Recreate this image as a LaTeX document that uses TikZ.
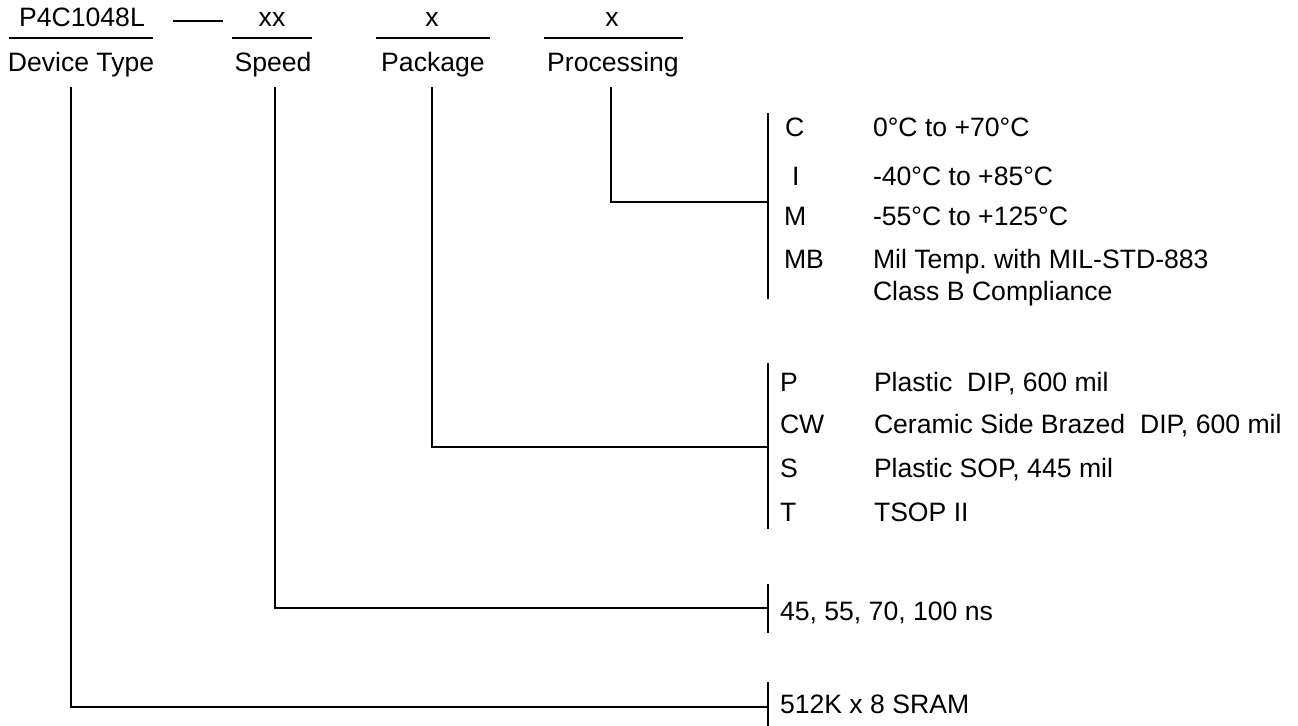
\documentclass[tikz,border=0pt]{standalone}
\usepackage{fontspec}
\setmainfont{Liberation Sans}
\begin{document}
\begin{tikzpicture}[x=0.5pt,y=-0.5pt,line width=1pt,
	every node/.style={inner sep=0pt,font=\fontsize{13.3}{15}\selectfont},
	hdr/.style={anchor=base},
	txt/.style={anchor=base west}]
	\useasboundingbox (0,0) rectangle (1298,726);
	% ordering code
	\node[hdr] (pn) at (82,27) {P4C1048L};
	\draw (173,21) -- (223,21);
	\node[hdr] (spd) at (272,27) {xx};
	\node[hdr] (pkg) at (432,27) {x};
	\node[hdr] (proc) at (612,27) {x};
	\foreach \a/\b in {9/153,232/312,376/490,544/683}
		\draw (\a,38) -- (\b,38);
	\node[hdr] (pnlbl) at (81,72) {Device Type};
	\node[hdr] (spdlbl) at (273,72) {Speed};
	\node[hdr] (pkglbl) at (433,72) {Package};
	\node[hdr] (proclbl) at (613,72) {Processing};
	% leads
	\coordinate (pntop) at (71,87);
	\coordinate (spdtop) at (275,87);
	\coordinate (pkgtop) at (432,87);
	\coordinate (proctop) at (611,87);
	\coordinate (pnend) at (768,707);
	\coordinate (spdend) at (768,608);
	\coordinate (pkgend) at (768,447);
	\coordinate (procend) at (768,202);
	\draw (proctop) |- (procend);
	\draw (pkgtop) |- (pkgend);
	\draw (spdtop) |- (spdend);
	\draw (pntop) |- (pnend);
	% brackets
	\draw (768,113) -- (768,299);
	\draw (768,363) -- (768,529);
	\draw (768,584) -- (768,633);
	\draw (768,682) -- (768,726);
	% processing
	\node[txt] (c) at (784,137) {C};
	\node[txt] (i) at (791,186) {I};
	\node[txt] (m) at (783,226) {M};
	\node[txt] (mb) at (783,269) {MB};
	\node[txt] (ctxt) at (872,137) {0°C to +70°C};
	\node[txt] (itxt) at (872,186) {-40°C to +85°C};
	\node[txt] (mtxt) at (872,226) {-55°C to +125°C};
	\node[txt] (mbtxt) at (872,269) {Mil Temp.\ with MIL-STD-883};
	\node[txt] (mbtxt2) at (872,301) {Class B Compliance};
	% package
	\node[txt] (p) at (779,392) {P};
	\node[txt] (cw) at (779,434) {CW};
	\node[txt] (s) at (779,478) {S};
	\node[txt] (t) at (779,522) {T};
	\node[txt] (ptxt) at (873,392) {Plastic~~DIP, 600 mil};
	\node[txt] (cwtxt) at (873,434) {Ceramic Side Brazed~~DIP, 600 mil};
	\node[txt] (stxt) at (873,478) {Plastic SOP, 445 mil};
	\node[txt] (ttxt) at (873,522) {TSOP II};
	% speed and device
	\node[txt] (ns) at (779,621) {45, 55, 70, 100 ns};
	\node[txt] (sram) at (779,714) {512K x 8 SRAM};
\end{tikzpicture}
\end{document}
